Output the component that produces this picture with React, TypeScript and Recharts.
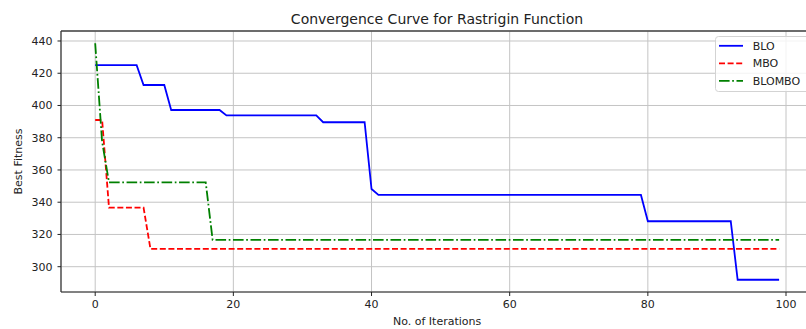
import React from 'react';
import { LineChart, Line, XAxis, YAxis, CartesianGrid, ReferenceLine } from 'recharts';

const iterations: number[] = Array.from({ length: 100 }, (_, i) => i);

const bloValues: number[] = [
  425, 425, 425, 425, 425, 425, 425, 412.7, 412.7, 412.7,
  412.7, 397.2, 397.2, 397.2, 397.2, 397.2, 397.2, 397.2, 397.2, 393.8,
  393.8, 393.8, 393.8, 393.8, 393.8, 393.8, 393.8, 393.8, 393.8, 393.8,
  393.8, 393.8, 393.8, 389.6, 389.6, 389.6, 389.6, 389.6, 389.6, 389.6,
  348.2, 344.5, 344.5, 344.5, 344.5, 344.5, 344.5, 344.5, 344.5, 344.5,
  344.5, 344.5, 344.5, 344.5, 344.5, 344.5, 344.5, 344.5, 344.5, 344.5,
  344.5, 344.5, 344.5, 344.5, 344.5, 344.5, 344.5, 344.5, 344.5, 344.5,
  344.5, 344.5, 344.5, 344.5, 344.5, 344.5, 344.5, 344.5, 344.5, 344.5,
  328.2, 328.2, 328.2, 328.2, 328.2, 328.2, 328.2, 328.2, 328.2, 328.2,
  328.2, 328.2, 328.2, 291.9, 291.9, 291.9, 291.9, 291.9, 291.9, 291.9,
];

const mboValues: number[] = [
  391, 391, 336.6, 336.6, 336.6, 336.6, 336.6, 336.6, 311, 311,
  311, 311, 311, 311, 311, 311, 311, 311, 311, 311,
  311, 311, 311, 311, 311, 311, 311, 311, 311, 311,
  311, 311, 311, 311, 311, 311, 311, 311, 311, 311,
  311, 311, 311, 311, 311, 311, 311, 311, 311, 311,
  311, 311, 311, 311, 311, 311, 311, 311, 311, 311,
  311, 311, 311, 311, 311, 311, 311, 311, 311, 311,
  311, 311, 311, 311, 311, 311, 311, 311, 311, 311,
  311, 311, 311, 311, 311, 311, 311, 311, 311, 311,
  311, 311, 311, 311, 311, 311, 311, 311, 311, 311,
];

const blomboValues: number[] = [
  438.6, 377.5, 352.3, 352.3, 352.3, 352.3, 352.3, 352.3, 352.3, 352.3,
  352.3, 352.3, 352.3, 352.3, 352.3, 352.3, 352.3, 316.6, 316.6, 316.6,
  316.6, 316.6, 316.6, 316.6, 316.6, 316.6, 316.6, 316.6, 316.6, 316.6,
  316.6, 316.6, 316.6, 316.6, 316.6, 316.6, 316.6, 316.6, 316.6, 316.6,
  316.6, 316.6, 316.6, 316.6, 316.6, 316.6, 316.6, 316.6, 316.6, 316.6,
  316.6, 316.6, 316.6, 316.6, 316.6, 316.6, 316.6, 316.6, 316.6, 316.6,
  316.6, 316.6, 316.6, 316.6, 316.6, 316.6, 316.6, 316.6, 316.6, 316.6,
  316.6, 316.6, 316.6, 316.6, 316.6, 316.6, 316.6, 316.6, 316.6, 316.6,
  316.6, 316.6, 316.6, 316.6, 316.6, 316.6, 316.6, 316.6, 316.6, 316.6,
  316.6, 316.6, 316.6, 316.6, 316.6, 316.6, 316.6, 316.6, 316.6, 316.6,
];

const xTicks: number[] = [0, 20, 40, 60, 80, 100];
const yTicks: number[] = [300, 320, 340, 360, 380, 400, 420, 440];
const xDomain: [number, number] = [-4.95, 103.95];
const yDomain: [number, number] = [284.3, 446.2];

const seriesNames = ['BLO', 'MBO', 'BLOMBO'];
const seriesColors = ['#0000ff', '#ff0000', '#008000'];
const seriesDash = ['', '6 2.6', '10.6 2.6 1.7 2.6'];

const titleText = 'Convergence Curve for Rastrigin Function';
const xLabel = 'No. of Iterations';
const yLabel = 'Best Fitness';

const rows = iterations.map((it, i) => ({
  it,
  blo: bloValues[i],
  mbo: mboValues[i],
  blombo: blomboValues[i],
}));

const FONT = 'DejaVu Sans, Verdana, sans-serif';
const TXT = '#222222';

export default function App() {
  const legendRows = [45.8, 63.3, 80.8];
  return (
    <div
      style={{
        position: 'absolute',
        left: 0,
        top: 0,
        width: 806,
        height: 329,
        overflow: 'hidden',
        background: '#ffffff',
        fontFamily: FONT,
      }}
    >
      <div
        style={{
          position: 'absolute',
          left: 437,
          top: 11.6,
          transform: 'translateX(-50%)',
          fontSize: 14,
          lineHeight: '14px',
          whiteSpace: 'nowrap',
          color: TXT,
          fontFamily: FONT,
        }}
      >
        {titleText}
      </div>
      <div style={{ position: 'absolute', left: 0, top: 0 }}>
        <LineChart
          width={830}
          height={329}
          data={rows}
          margin={{ top: 31, right: 16.7, bottom: 0, left: 0 }}
          style={{ fontFamily: FONT }}
        >
          <CartesianGrid stroke="#c4c4c4" strokeWidth={1} />
          <XAxis
            dataKey="it"
            type="number"
            domain={xDomain}
            ticks={xTicks}
            allowDataOverflow
            height={37}
            tickSize={4}
            tickMargin={4.5}
            axisLine={{ stroke: '#222', strokeWidth: 1.2 }}
            tickLine={{ stroke: '#222' }}
            tick={{ fill: TXT, fontSize: 11, fontFamily: FONT }}
            label={{
              value: xLabel,
              position: 'insideBottom',
              offset: 4,
              style: { fill: TXT, fontSize: 11, fontFamily: FONT },
            }}
          />
          <YAxis
            type="number"
            domain={yDomain}
            ticks={yTicks}
            allowDataOverflow
            width={61}
            tickSize={3.5}
            tickMargin={5}
            axisLine={{ stroke: '#333', strokeWidth: 1.2 }}
            tickLine={{ stroke: '#222' }}
            tick={{ fill: TXT, fontSize: 11, fontFamily: FONT }}
            label={{
              value: yLabel,
              angle: -90,
              position: 'insideLeft',
              offset: 18,
              style: { fill: TXT, fontSize: 11, fontFamily: FONT, textAnchor: 'middle' },
            }}
          />
          <ReferenceLine y={yDomain[1]} stroke="#444" strokeWidth={1.4} ifOverflow="visible" />
          <Line
            type="linear"
            dataKey="blo"
            name={seriesNames[0]}
            stroke={seriesColors[0]}
            strokeWidth={1.8}
            dot={false}
            isAnimationActive={false}
          />
          <Line
            type="linear"
            dataKey="mbo"
            name={seriesNames[1]}
            stroke={seriesColors[1]}
            strokeWidth={1.8}
            strokeDasharray={seriesDash[1]}
            dot={false}
            isAnimationActive={false}
          />
          <Line
            type="linear"
            dataKey="blombo"
            name={seriesNames[2]}
            stroke={seriesColors[2]}
            strokeWidth={1.8}
            strokeDasharray={seriesDash[2]}
            dot={false}
            isAnimationActive={false}
          />
        </LineChart>
      </div>
      <svg
        width={806}
        height={329}
        style={{ position: 'absolute', left: 0, top: 0, pointerEvents: 'none' }}
      >
        <rect
          x={715.5}
          y={36.5}
          width={100}
          height={55}
          rx={3}
          fill="rgba(255,255,255,0.8)"
          stroke="#d3d3d3"
          strokeWidth={1}
        />
        {seriesNames.map((name, i) => (
          <g key={name}>
            <line
              x1={719}
              x2={743}
              y1={legendRows[i]}
              y2={legendRows[i]}
              stroke={seriesColors[i]}
              strokeWidth={1.8}
              strokeDasharray={seriesDash[i] || undefined}
            />
            <text
              x={752.7}
              y={legendRows[i] + 4}
              fontSize={11}
              fontFamily={FONT}
              fill={TXT}
            >
              {name}
            </text>
          </g>
        ))}
      </svg>
    </div>
  );
}
